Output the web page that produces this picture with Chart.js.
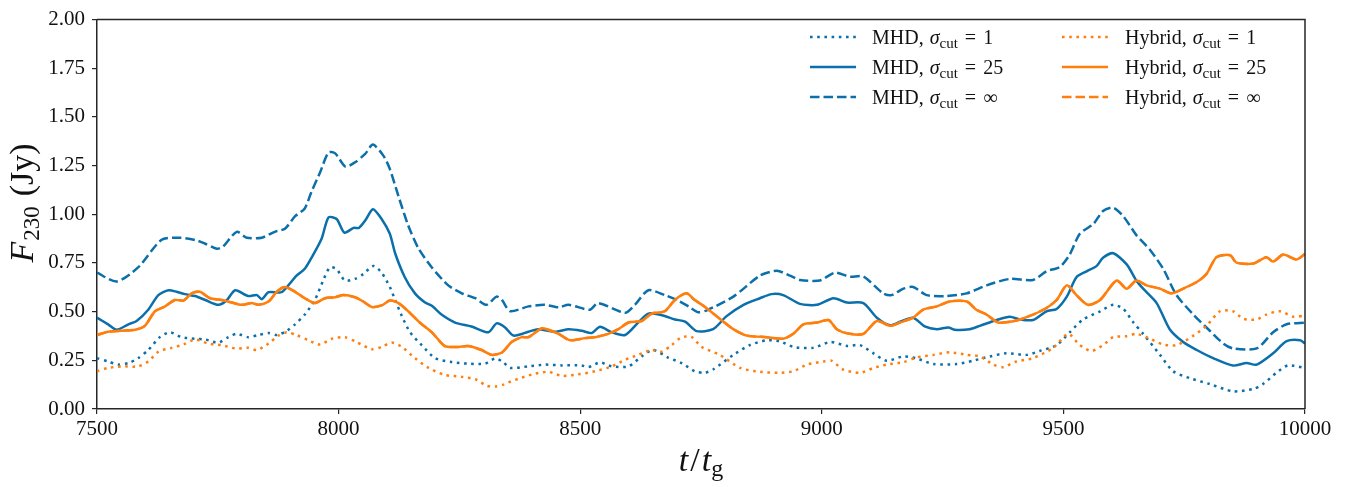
<!DOCTYPE html>
<html><head><meta charset="utf-8">
<script src="https://cdn.jsdelivr.net/npm/chart.js@4"></script>
<style>html,body{margin:0;padding:0;background:#fff}#wrap{width:1362px;height:487px}</style>
</head><body><div id="wrap"><canvas id="c" width="1362" height="487"></canvas></div>
<script>
// ---- tick labels ----
const xTicks = [7500, 8000, 8500, 9000, 9500, 10000];
const yTicks = [0, 0.25, 0.5, 0.75, 1.0, 1.25, 1.5, 1.75, 2.0];

// ---- series (t / t_g, F_230 in Jy) ----
const mhd1T = [7500,7523,7544,7565,7585,7606,7630,7651,7675,7703,7724,7751,7772,7789,7813,7834,7855,7872,7893,7910,7930,7951,7968,7982,7996,8013,8034,8051,8072,8089,8106,8117,8131,8148,8172,8200,8234,8268,8303,8324,8341,8355,8393,8427,8462,8503,8517,8541,8565,8600,8627,8651,8682,8710,8737,8758,8775,8817,8851,8886,8913,8941,8982,9017,9052,9079,9107,9134,9169,9196,9231,9279,9313,9348,9382,9424,9451,9486,9513,9541,9576,9603,9624,9645,9665,9700,9727,9762,9803,9851,9893,9913,9941,9965,10000];
const mhd1F = [0.261,0.244,0.228,0.236,0.261,0.303,0.369,0.394,0.369,0.361,0.357,0.341,0.369,0.386,0.369,0.38,0.39,0.38,0.402,0.435,0.485,0.56,0.66,0.727,0.718,0.66,0.668,0.693,0.735,0.70,0.627,0.56,0.477,0.394,0.328,0.261,0.241,0.233,0.233,0.26,0.24,0.211,0.219,0.228,0.224,0.224,0.215,0.239,0.219,0.219,0.27,0.303,0.264,0.236,0.194,0.186,0.203,0.278,0.328,0.353,0.348,0.319,0.314,0.344,0.324,0.328,0.286,0.248,0.27,0.26,0.231,0.231,0.248,0.27,0.286,0.278,0.298,0.328,0.394,0.46,0.502,0.535,0.514,0.444,0.386,0.278,0.194,0.158,0.128,0.091,0.103,0.128,0.186,0.224,0.211];

const mhd25T = [7500,7523,7541,7565,7582,7606,7627,7648,7665,7682,7703,7724,7751,7768,7786,7813,7831,7841,7855,7882,7896,7913,7930,7944,7965,7979,7996,8012,8031,8042,8055,8071,8089,8106,8117,8137,8158,8179,8193,8213,8241,8275,8310,8327,8344,8362,8393,8413,8448,8476,8503,8524,8541,8565,8593,8620,8641,8669,8696,8717,8741,8775,8803,8838,8872,8896,8920,8955,8990,9024,9052,9086,9114,9141,9162,9189,9213,9238,9262,9275,9306,9327,9362,9389,9410,9437,9465,9486,9507,9527,9548,9569,9582,9603,9631,9651,9665,9693,9720,9748,9776,9810,9851,9879,9900,9934,9962,9990,10000];
const mhd25F = [0.469,0.435,0.407,0.435,0.452,0.51,0.585,0.61,0.602,0.59,0.58,0.56,0.535,0.557,0.61,0.58,0.585,0.564,0.60,0.60,0.635,0.685,0.72,0.777,0.876,0.984,0.976,0.906,0.93,0.93,0.968,1.026,0.976,0.90,0.80,0.677,0.594,0.547,0.53,0.485,0.444,0.424,0.394,0.44,0.42,0.377,0.397,0.41,0.397,0.41,0.402,0.39,0.422,0.394,0.38,0.444,0.49,0.482,0.46,0.449,0.40,0.41,0.477,0.535,0.569,0.59,0.585,0.54,0.535,0.569,0.547,0.544,0.469,0.43,0.448,0.469,0.424,0.41,0.419,0.407,0.41,0.427,0.457,0.474,0.46,0.457,0.502,0.514,0.577,0.677,0.707,0.735,0.777,0.80,0.743,0.66,0.618,0.544,0.41,0.344,0.303,0.261,0.223,0.236,0.228,0.286,0.348,0.353,0.336];

const mhdInfT = [7500,7541,7585,7633,7668,7703,7723,7748,7761,7789,7810,7841,7868,7889,7910,7930,7944,7962,7979,7993,8014,8034,8055,8071,8093,8106,8124,8144,8165,8193,8227,8255,8283,8306,8327,8338,8355,8393,8427,8455,8476,8520,8537,8593,8613,8641,8675,8700,8724,8744,8762,8817,8872,8907,8934,8955,8996,9027,9058,9086,9127,9144,9169,9189,9217,9258,9300,9341,9389,9437,9465,9493,9513,9534,9562,9582,9603,9624,9651,9679,9707,9734,9769,9803,9831,9851,9900,9934,9962,10000];
const mhdInfF = [0.70,0.655,0.727,0.868,0.88,0.868,0.85,0.823,0.835,0.91,0.88,0.88,0.91,0.926,0.99,1.03,1.117,1.217,1.317,1.313,1.245,1.267,1.31,1.358,1.30,1.233,1.092,0.943,0.826,0.727,0.635,0.594,0.569,0.535,0.577,0.56,0.502,0.527,0.535,0.522,0.535,0.51,0.544,0.494,0.535,0.61,0.585,0.56,0.527,0.497,0.507,0.577,0.685,0.71,0.685,0.663,0.66,0.70,0.68,0.68,0.594,0.585,0.618,0.627,0.585,0.58,0.594,0.635,0.668,0.663,0.707,0.73,0.793,0.90,0.95,1.017,1.034,0.99,0.893,0.818,0.718,0.585,0.485,0.402,0.336,0.311,0.311,0.394,0.435,0.444];

const hyb1T = [7500,7523,7551,7585,7606,7627,7654,7679,7703,7730,7758,7786,7813,7831,7855,7875,7893,7913,7937,7962,7986,8013,8037,8069,8089,8110,8131,8158,8186,8220,8255,8283,8306,8324,8341,8351,8379,8406,8434,8462,8496,8531,8565,8593,8620,8648,8669,8689,8710,8731,8751,8789,8831,8872,8913,8941,8969,9003,9020,9044,9079,9107,9134,9169,9196,9231,9265,9300,9327,9355,9375,9403,9437,9479,9510,9534,9558,9582,9603,9631,9651,9679,9707,9734,9769,9796,9824,9851,9872,9900,9920,9948,9976,10000];
const hyb1F = [0.194,0.211,0.219,0.219,0.244,0.294,0.314,0.331,0.357,0.336,0.328,0.311,0.314,0.303,0.336,0.377,0.394,0.38,0.353,0.331,0.361,0.369,0.344,0.307,0.319,0.341,0.319,0.261,0.211,0.175,0.165,0.153,0.12,0.115,0.125,0.136,0.161,0.181,0.191,0.17,0.178,0.194,0.219,0.253,0.278,0.303,0.294,0.328,0.369,0.369,0.319,0.278,0.211,0.191,0.186,0.194,0.228,0.244,0.248,0.203,0.186,0.211,0.228,0.241,0.265,0.278,0.291,0.278,0.27,0.228,0.215,0.244,0.261,0.314,0.386,0.328,0.298,0.328,0.369,0.374,0.386,0.361,0.331,0.328,0.377,0.427,0.502,0.502,0.464,0.46,0.485,0.502,0.474,0.48];

const hyb25T = [7500,7523,7551,7579,7599,7620,7641,7661,7679,7696,7713,7734,7758,7779,7799,7820,7834,7855,7872,7889,7910,7930,7951,7972,7993,8010,8034,8051,8069,8089,8106,8124,8144,8168,8193,8220,8248,8268,8296,8317,8338,8358,8379,8393,8420,8434,8455,8479,8510,8531,8558,8579,8600,8627,8648,8675,8696,8720,8737,8755,8782,8817,8845,8886,8920,8941,8962,8990,9014,9031,9058,9086,9114,9141,9162,9189,9210,9238,9265,9300,9320,9341,9365,9389,9410,9437,9465,9486,9507,9527,9551,9576,9610,9631,9651,9672,9700,9724,9748,9776,9796,9817,9845,9858,9893,9920,9934,9955,9983,10000];
const hyb25F = [0.38,0.397,0.402,0.407,0.427,0.502,0.527,0.56,0.557,0.594,0.602,0.569,0.56,0.547,0.535,0.544,0.535,0.552,0.602,0.627,0.602,0.569,0.544,0.569,0.574,0.585,0.574,0.552,0.524,0.532,0.557,0.544,0.502,0.444,0.394,0.323,0.319,0.323,0.303,0.278,0.29,0.344,0.369,0.369,0.414,0.407,0.386,0.353,0.364,0.369,0.386,0.41,0.444,0.452,0.49,0.502,0.56,0.594,0.56,0.53,0.477,0.41,0.377,0.369,0.361,0.386,0.435,0.444,0.457,0.41,0.386,0.386,0.452,0.427,0.444,0.469,0.51,0.527,0.552,0.552,0.51,0.485,0.444,0.448,0.46,0.485,0.519,0.56,0.635,0.585,0.535,0.56,0.66,0.618,0.66,0.635,0.618,0.594,0.618,0.652,0.693,0.78,0.79,0.752,0.747,0.78,0.757,0.793,0.768,0.797];

// Hybrid sigma_cut = infinity coincides with sigma_cut = 25 in the figure
const hybInfT = hyb25T;
const hybInfF = hyb25F;

const BLUE = '#0a6fab';
const ORANGE = '#ff7f0e';
const DOT = [2.6, 4.6];
const DASH = [9.5, 4];
const SERIF = '"Liberation Serif", "DejaVu Serif", serif';

function pts(T, F) { return T.map((t, i) => ({ x: t, y: F[i] })); }

const seriesDefs = [
  { name: 'MHD', cut: '1',  T: mhd1T,   F: mhd1F,   color: BLUE,   dash: DOT,  order: 2 },
  { name: 'MHD', cut: '25', T: mhd25T,  F: mhd25F,  color: BLUE,   dash: [],   order: 2 },
  { name: 'MHD', cut: '\u221E', T: mhdInfT, F: mhdInfF, color: BLUE, dash: DASH, order: 2 },
  { name: 'Hybrid', cut: '1',  T: hyb1T,  F: hyb1F,  color: ORANGE, dash: DOT,  order: 1 },
  { name: 'Hybrid', cut: '25', T: hyb25T, F: hyb25F, color: ORANGE, dash: [],   order: 1 },
  { name: 'Hybrid', cut: '\u221E', T: hybInfT, F: hybInfF, color: ORANGE, dash: DASH, order: 0 }
];

function drawRich(ctx, x, y, parts) {
  let cx = x;
  for (const p of parts) {
    ctx.font = p.f;
    ctx.fillText(p.t, cx, y + (p.dy || 0));
    cx += ctx.measureText(p.t).width + (p.gap || 0);
  }
  return cx - x;
}
function richWidth(ctx, parts) {
  let w = 0;
  for (const p of parts) { ctx.font = p.f; w += ctx.measureText(p.t).width + (p.gap || 0); }
  return w;
}

const decor = {
  id: 'decor',
  afterDraw(chart) {
    const ctx = chart.ctx, a = chart.chartArea;
    ctx.save();
    // top & right spines
    ctx.strokeStyle = '#262626';
    ctx.lineWidth = 1.5;
    ctx.beginPath();
    ctx.moveTo(a.left, a.top); ctx.lineTo(a.right, a.top); ctx.lineTo(a.right, a.bottom);
    ctx.stroke();

    ctx.fillStyle = '#111';
    ctx.textBaseline = 'alphabetic';
    ctx.textAlign = 'left';
    // x title: t / t_g
    const xParts = [
      { t: 't', f: 'italic 34px ' + SERIF, gap: 2 },
      { t: '/', f: '34px ' + SERIF, gap: 2 },
      { t: 't', f: 'italic 34px ' + SERIF },
      { t: 'g', f: '24px ' + SERIF, dy: 5 }
    ];
    const xw = richWidth(ctx, xParts);
    drawRich(ctx, 701 - xw / 2, 471, xParts);

    // y title: F_230 (Jy)
    const yParts = [
      { t: 'F', f: 'italic 34px ' + SERIF, gap: 1 },
      { t: '230', f: '23px ' + SERIF, dy: 6, gap: 10 },
      { t: '(Jy)', f: '34px ' + SERIF }
    ];
    const yw = richWidth(ctx, yParts);
    ctx.save();
    ctx.translate(33, 203);
    ctx.rotate(-Math.PI / 2);
    drawRich(ctx, -yw / 2, 0, yParts);
    ctx.restore();

    // legend (two columns, three rows)
    const colSample = [810, 1062];
    const colText = [872, 1125];
    const rowY = [37, 67, 97];
    chart.data.datasets.forEach((ds, i) => {
      const def = seriesDefs[i];
      const col = i < 3 ? 0 : 1, row = i % 3;
      const y = rowY[row];
      ctx.save();
      ctx.strokeStyle = ds.borderColor;
      ctx.lineWidth = 2.5;
      ctx.setLineDash(ds.borderDash || []);
      ctx.beginPath();
      ctx.moveTo(colSample[col], y); ctx.lineTo(colSample[col] + 46, y);
      ctx.stroke();
      ctx.restore();
      ctx.fillStyle = '#111';
      drawRich(ctx, colText[col], y + 7, [
        { t: def.name + ', ', f: '20px ' + SERIF, gap: 1 },
        { t: '\u03C3', f: 'italic 20px ' + SERIF },
        { t: 'cut', f: '15px ' + SERIF, dy: 4, gap: 7 },
        { t: '=', f: '20px ' + SERIF, gap: 7 },
        { t: def.cut, f: '20px ' + SERIF }
      ]);
    });
    ctx.restore();
  }
};

const datasets = seriesDefs.map(d => ({
  label: d.name + ', sigma_cut = ' + d.cut,
  data: pts(d.T, d.F),
  borderColor: d.color,
  backgroundColor: d.color,
  borderWidth: 2.5,
  borderDash: d.dash,
  borderCapStyle: 'butt',
  borderJoinStyle: 'round',
  pointRadius: 0,
  tension: 0.25,
  fill: false,
  order: d.order
}));

new Chart(document.getElementById('c'), {
  type: 'line',
  data: { datasets },
  options: {
    responsive: false,
    animation: false,
    devicePixelRatio: 1,
    layout: { padding: { left: 0, top: 8, right: 57, bottom: 0 } },
    plugins: { legend: { display: false }, tooltip: { enabled: false } },
    scales: {
      x: {
        type: 'linear', min: 7500, max: 10000,
        afterBuildTicks: s => { s.ticks = xTicks.map(v => ({ value: v })); },
        afterFit: s => { s.height = 78; },
        grid: { display: true, drawOnChartArea: false, drawTicks: true, tickLength: 5, color: '#262626', lineWidth: 1.2 },
        border: { display: true, color: '#262626', width: 1.5 },
        ticks: { color: '#111', padding: 3, maxRotation: 0, font: { family: SERIF, size: 21 }, callback: v => String(v) }
      },
      y: {
        type: 'linear', min: 0, max: 2,
        afterBuildTicks: s => { s.ticks = yTicks.map(v => ({ value: v })); },
        afterFit: s => { s.width = 97; },
        grid: { display: true, drawOnChartArea: false, drawTicks: true, tickLength: 5, color: '#262626', lineWidth: 1.2 },
        border: { display: true, color: '#262626', width: 1.5 },
        ticks: { color: '#111', padding: 7, font: { family: SERIF, size: 21 }, callback: v => Number(v).toFixed(2) }
      }
    }
  },
  plugins: [decor]
});
</script>
</body></html>
